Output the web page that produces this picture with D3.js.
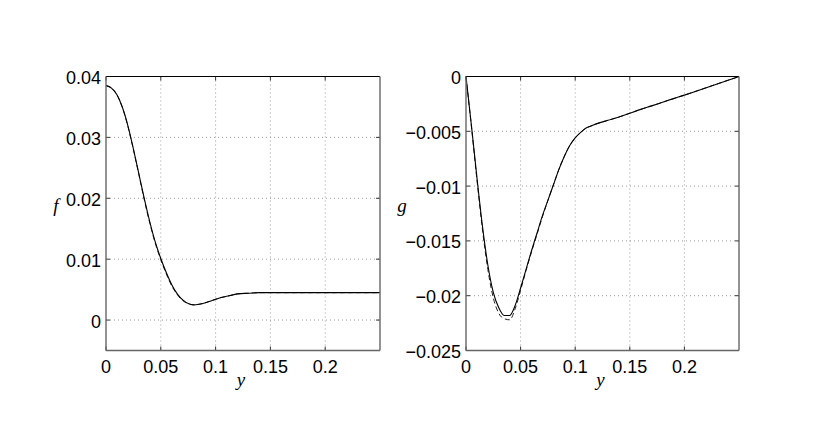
<!DOCTYPE html>
<html>
<head>
<meta charset="utf-8">
<script src="https://cdn.jsdelivr.net/npm/d3@7"></script>
<style>
  html, body { margin: 0; padding: 0; background: #fff; }
  svg { display: block; }
  .tick-label { font-family: "Liberation Sans", Arial, Helvetica, sans-serif; font-size: 18px; fill: #000; }
  .ax-label { font-family: "Liberation Serif", "Times New Roman", serif; font-style: italic; font-size: 19px; fill: #000; }
</style>
</head>
<body>
<svg id="chart" width="817" height="444"></svg>
<script>
// ---------- data ----------
const yGrid = [0, 0.005, 0.01, 0.015, 0.02, 0.025, 0.03, 0.035, 0.04, 0.045, 0.05, 0.055, 0.06, 0.065, 0.07, 0.075, 0.08, 0.085, 0.09, 0.095, 0.1, 0.105, 0.11, 0.115, 0.12, 0.13, 0.14, 0.15, 0.16, 0.17, 0.18, 0.19, 0.2, 0.21, 0.22, 0.23, 0.24, 0.25];

const fSolid = [0.0385, 0.0381, 0.0370, 0.0349, 0.0319, 0.0281, 0.0240, 0.0199, 0.0161, 0.0128, 0.0101, 0.0078, 0.0058, 0.0043, 0.0033, 0.0027, 0.0025, 0.0026, 0.0028, 0.0031, 0.0034, 0.0037, 0.0039, 0.0041, 0.0043, 0.0044, 0.0045, 0.0045, 0.0045, 0.0045, 0.0045, 0.0045, 0.0045, 0.0045, 0.0045, 0.0045, 0.0045, 0.0045];
const fDashed = [0.0385, 0.0381, 0.0370, 0.0349, 0.0318, 0.0280, 0.0239, 0.0197, 0.0159, 0.0126, 0.0099, 0.0076, 0.0056, 0.0042, 0.0032, 0.0027, 0.0025, 0.0026, 0.0028, 0.0031, 0.0034, 0.0037, 0.0039, 0.0041, 0.0043, 0.0044, 0.0045, 0.0045, 0.0045, 0.0045, 0.0045, 0.0045, 0.0045, 0.0045, 0.0045, 0.0045, 0.0045, 0.0045];

const gSolid = [0, -0.0045, -0.0092, -0.0136, -0.0172, -0.0197, -0.0211, -0.0218, -0.0218, -0.0209, -0.0193, -0.0176, -0.0159, -0.0143, -0.0127, -0.0113, -0.0099, -0.0085, -0.0073, -0.0063, -0.0056, -0.0051, -0.0047, -0.0045, -0.0043, -0.0040, -0.0037, -0.00335, -0.0030, -0.00268, -0.00235, -0.00202, -0.0017, -0.00136, -0.00102, -0.00068, -0.00034, 0];
const gDashed = [0, -0.0046, -0.0094, -0.0139, -0.0176, -0.0202, -0.0216, -0.0221, -0.0222, -0.0212, -0.0195, -0.0177, -0.0160, -0.0144, -0.0128, -0.0113, -0.0099, -0.0085, -0.0073, -0.0063, -0.0056, -0.0051, -0.0047, -0.0045, -0.0043, -0.0040, -0.0037, -0.00335, -0.0030, -0.00268, -0.00235, -0.00202, -0.0017, -0.00136, -0.00102, -0.00068, -0.00034, 0];

const xTicks = [0, 0.05, 0.1, 0.15, 0.2];
const xTickLabels = ["0", "0.05", "0.1", "0.15", "0.2"];
const fTicks = [0, 0.01, 0.02, 0.03, 0.04];
const fTickLabels = ["0", "0.01", "0.02", "0.03", "0.04"];
const gTicks = [-0.025, -0.02, -0.015, -0.01, -0.005, 0];
const gTickLabels = ["\u22120.025", "\u22120.02", "\u22120.015", "\u22120.01", "\u22120.005", "0"];

// ---------- drawing ----------
const svg = d3.select("#chart");

function panel(opts) {
  const x = d3.scaleLinear().domain([0, 0.25]).range([opts.left, opts.right]);
  const y = d3.scaleLinear().domain(opts.yDomain).range([opts.bottom, opts.top]);
  const g = svg.append("g");

  // grid (dotted)
  g.selectAll(".gx").data(xTicks.filter(d => d > 0)).enter().append("line")
    .attr("x1", d => x(d)).attr("x2", d => x(d))
    .attr("y1", opts.top).attr("y2", opts.bottom)
    .attr("stroke", "#9a9a9a").attr("stroke-width", 1).attr("stroke-dasharray", "1,3");
  g.selectAll(".gy").data(opts.yTicks.filter(d => y(d) > opts.top + 1 && y(d) < opts.bottom - 1)).enter().append("line")
    .attr("x1", opts.left).attr("x2", opts.right)
    .attr("y1", d => y(d)).attr("y2", d => y(d))
    .attr("stroke", "#9a9a9a").attr("stroke-width", 1).attr("stroke-dasharray", "1,3");

  // inward tick marks
  const tl = 4;
  xTicks.forEach(d => {
    g.append("line").attr("x1", x(d)).attr("x2", x(d)).attr("y1", opts.bottom).attr("y2", opts.bottom - tl).attr("stroke", "#333");
    g.append("line").attr("x1", x(d)).attr("x2", x(d)).attr("y1", opts.top).attr("y2", opts.top + tl).attr("stroke", "#333");
  });
  opts.yTicks.forEach(d => {
    g.append("line").attr("x1", opts.left).attr("x2", opts.left + tl).attr("y1", y(d)).attr("y2", y(d)).attr("stroke", "#333");
    g.append("line").attr("x1", opts.right).attr("x2", opts.right - tl).attr("y1", y(d)).attr("y2", y(d)).attr("stroke", "#333");
  });

  // curves
  const line = d3.line().x((d, i) => x(yGrid[i])).y(d => y(d)).curve(d3.curveMonotoneX);
  g.append("path").attr("d", line(opts.dashed)).attr("fill", "none")
    .attr("stroke", "#222").attr("stroke-width", 1).attr("stroke-dasharray", "5,3");
  g.append("path").attr("d", line(opts.solid)).attr("fill", "none")
    .attr("stroke", "#000").attr("stroke-width", 1.1);

  // box
  g.append("line").attr("x1", opts.left).attr("x2", opts.right).attr("y1", opts.top).attr("y2", opts.top).attr("stroke", "#000").attr("stroke-width", 1.2);
  g.append("line").attr("x1", opts.left).attr("x2", opts.right).attr("y1", opts.bottom).attr("y2", opts.bottom).attr("stroke", "#666").attr("stroke-width", 1.4);
  g.append("line").attr("x1", opts.left).attr("x2", opts.left).attr("y1", opts.top).attr("y2", opts.bottom).attr("stroke", "#666").attr("stroke-width", 1.4);
  g.append("line").attr("x1", opts.right).attr("x2", opts.right).attr("y1", opts.top).attr("y2", opts.bottom).attr("stroke", "#666").attr("stroke-width", 1.4);

  // x tick labels
  g.selectAll(".xl").data(xTicks).enter().append("text")
    .attr("class", "tick-label")
    .attr("x", d => x(d)).attr("y", opts.bottom + 22)
    .attr("text-anchor", "middle")
    .text((d, i) => xTickLabels[i]);
  // y tick labels
  g.selectAll(".yl").data(opts.yTicks).enter().append("text")
    .attr("class", "tick-label")
    .attr("x", opts.left - 5).attr("y", d => y(d) + 7.5)
    .attr("text-anchor", "end")
    .text((d, i) => opts.yTickLabels[i]);

  // axis labels
  g.append("text").attr("class", "ax-label").attr("x", (opts.left + opts.right) / 2 - 2).attr("y", opts.bottom + 35)
    .attr("text-anchor", "middle").text("y");
  g.append("text").attr("class", "ax-label").attr("x", opts.yLabelX).attr("y", opts.yLabelY)
    .attr("text-anchor", "middle").text(opts.yLabel);
}

panel({
  left: 106, right: 380, top: 76.5, bottom: 350.5,
  yDomain: [-0.005, 0.04], yTicks: fTicks, yTickLabels: fTickLabels,
  solid: fSolid, dashed: fDashed, yLabel: "f", yLabelX: 56, yLabelY: 212
});
panel({
  left: 466, right: 739, top: 76.5, bottom: 350.5,
  yDomain: [-0.025, 0], yTicks: gTicks, yTickLabels: gTickLabels,
  solid: gSolid, dashed: gDashed, yLabel: "g", yLabelX: 402, yLabelY: 212
});
</script>
</body>
</html>
